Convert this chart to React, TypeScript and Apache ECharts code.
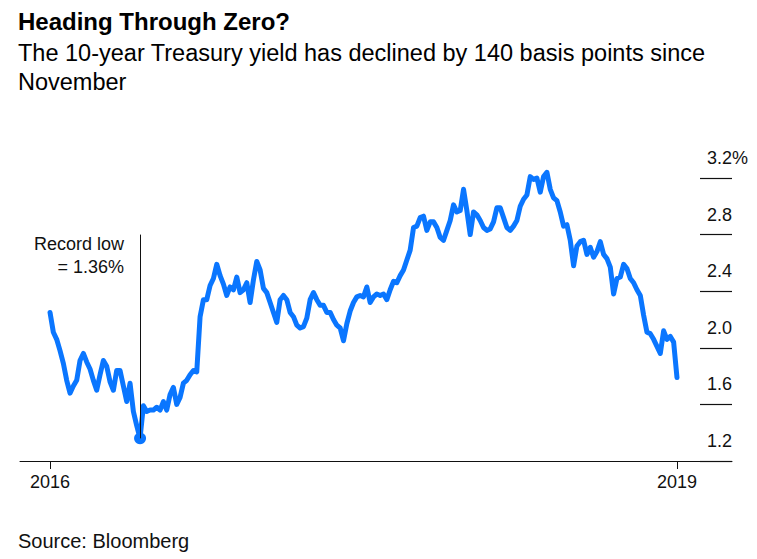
import React, { useEffect, useRef } from "react";
import * as echarts from "echarts";

// Weekly 10-year Treasury yield, Jan 2016 – Aug 2019
const yields: number[] = [
  2.25, 2.11, 2.06, 1.98, 1.89, 1.77, 1.68, 1.73, 1.77, 1.91,
  1.96, 1.90, 1.85, 1.77, 1.70, 1.81, 1.91, 1.87, 1.76, 1.70,
  1.84, 1.84, 1.73, 1.62, 1.75, 1.55, 1.45, 1.36, 1.59, 1.55,
  1.56, 1.56, 1.58, 1.56, 1.62, 1.56, 1.67, 1.72, 1.60, 1.65,
  1.75, 1.77, 1.81, 1.84, 1.83, 2.22, 2.34, 2.34, 2.44, 2.49,
  2.59, 2.51, 2.45, 2.37, 2.43, 2.41, 2.50, 2.39, 2.41, 2.46,
  2.32, 2.48, 2.61, 2.55, 2.42, 2.39, 2.32, 2.25, 2.18, 2.34,
  2.37, 2.34, 2.25, 2.22, 2.16, 2.14, 2.15, 2.21, 2.34, 2.39,
  2.34, 2.30, 2.30, 2.25, 2.25, 2.20, 2.16, 2.14, 2.05, 2.17,
  2.26, 2.32, 2.36, 2.37, 2.36, 2.43, 2.32, 2.36, 2.38, 2.37,
  2.38, 2.34, 2.41, 2.47, 2.46, 2.51, 2.55, 2.62, 2.69, 2.85,
  2.86, 2.92, 2.93, 2.83, 2.89, 2.89, 2.85, 2.78, 2.76, 2.83,
  2.90, 3.01, 2.96, 2.97, 3.12, 2.97, 2.80, 2.96, 2.94, 2.90,
  2.85, 2.83, 2.84, 2.89, 2.99, 2.99, 2.92, 2.85, 2.83, 2.86,
  2.90, 3.00, 3.05, 3.08, 3.21, 3.19, 3.20, 3.10, 3.21, 3.24,
  3.12, 3.06, 3.04, 2.96, 2.86, 2.87, 2.76, 2.58, 2.72, 2.75,
  2.76, 2.66, 2.71, 2.64, 2.68, 2.75, 2.66, 2.63, 2.57, 2.38,
  2.49, 2.50, 2.59, 2.56, 2.49, 2.46, 2.41, 2.37, 2.23, 2.11,
  2.10, 2.06, 2.01, 1.96, 2.12, 2.06, 2.08, 2.04, 1.79,
];

const xTickLabels: string[] = ["2016", "2019"];
const yTicks: number[] = [1.2, 1.6, 2.0, 2.4, 2.8, 3.2];
const recordLowIndex = 27;
const recordLowValue = 1.36;
const recordLineTop = 2.8;

const BLUE = "#0a76ff";
const FONT = "'Liberation Sans', Arial, Helvetica, sans-serif";

export default function App() {
  const ref = useRef<HTMLDivElement>(null);

  useEffect(() => {
    document.body.style.margin = "0";
    if (!ref.current) return;
    const chart = echarts.init(ref.current, undefined, { renderer: "svg" });
    const lastIdx = yields.length - 1;
    const seriesData = yields.map((v, i) => [i, v]);

    chart.setOption({
      animation: false,
      backgroundColor: "#ffffff",
      textStyle: { fontFamily: FONT },
      grid: { left: 20, right: 25, top: 178, bottom: 98, containLabel: false },
      xAxis: {
        type: "value",
        min: -9,
        max: lastIdx + 16.5,
        axisLine: { show: true, onZero: false, lineStyle: { color: "#111", width: 1 } },
        axisTick: {
          show: true,
          length: 8,
          lineStyle: { color: "#111", width: 1 },
          customValues: [0, lastIdx],
        },
        axisLabel: {
          show: true,
          customValues: [0, lastIdx],
          formatter: (v: number) => (v === 0 ? xTickLabels[0] : xTickLabels[1]),
          fontSize: 18,
          color: "#111",
          fontFamily: FONT,
          margin: 12,
        },
        splitLine: { show: false },
      },
      yAxis: {
        type: "value",
        position: "right",
        min: yTicks[0],
        max: yTicks[yTicks.length - 1],
        interval: 0.4,
        axisLine: { show: false, onZero: false },
        axisTick: {
          show: true,
          inside: true,
          length: 32,
          lineStyle: { color: "#111", width: 1.2 },
        },
        axisLabel: {
          show: true,
          inside: true,
          align: "left",
          margin: 25,
          verticalAlign: "bottom",
          padding: [0, 0, 11, 0],
          fontSize: 18,
          color: "#111",
          fontFamily: FONT,
          formatter: (v: number) => {
            const s = v.toFixed(1);
            return Math.abs(v - yTicks[yTicks.length - 1]) < 1e-6 ? s + "%" : s;
          },
        },
        splitLine: { show: false },
      },
      series: [
        {
          type: "line",
          data: seriesData,
          showSymbol: false,
          clip: false,
          smooth: false,
          lineStyle: { color: BLUE, width: 5, cap: "round", join: "round" },
          z: 3,
        },
        {
          type: "scatter",
          data: [[recordLowIndex, recordLowValue]],
          symbol: "circle",
          symbolSize: 12,
          itemStyle: { color: BLUE, opacity: 1 },
          z: 4,
          markLine: {
            silent: true,
            symbol: ["none", "none"],
            label: { show: false },
            lineStyle: { color: "#111", width: 1, type: "solid", opacity: 1 },
            data: [
              [
                { coord: [recordLowIndex, recordLowValue] },
                { coord: [recordLowIndex, recordLineTop] },
              ],
            ],
          },
        },
      ],
      graphic: [
        {
          type: "text",
          left: 18,
          top: 9,
          style: {
            text: "Heading Through Zero?",
            font: `bold 24px ${FONT}`,
            fill: "#000",
          },
        },
        {
          type: "text",
          left: 18,
          top: 38,
          style: {
            text: "The 10-year Treasury yield has declined by 140 basis points since\nNovember",
            font: `23.5px ${FONT}`,
            lineHeight: 29.5,
            fill: "#000",
          },
        },
        {
          type: "text",
          x: 124,
          y: 244,
          style: {
            text: "Record low",
            font: `18px ${FONT}`,
            fill: "#111",
            align: "right",
            verticalAlign: "middle",
          },
        },
        {
          type: "text",
          x: 124,
          y: 267,
          style: {
            text: "= 1.36%",
            font: `18px ${FONT}`,
            fill: "#111",
            align: "right",
            verticalAlign: "middle",
          },
        },
        {
          type: "text",
          left: 18,
          top: 531,
          style: {
            text: "Source: Bloomberg",
            font: `20px ${FONT}`,
            fill: "#111",
          },
        },
      ],
    });

    return () => {
      chart.dispose();
    };
  }, []);

  return <div ref={ref} style={{ width: 757, height: 559 }} />;
}
